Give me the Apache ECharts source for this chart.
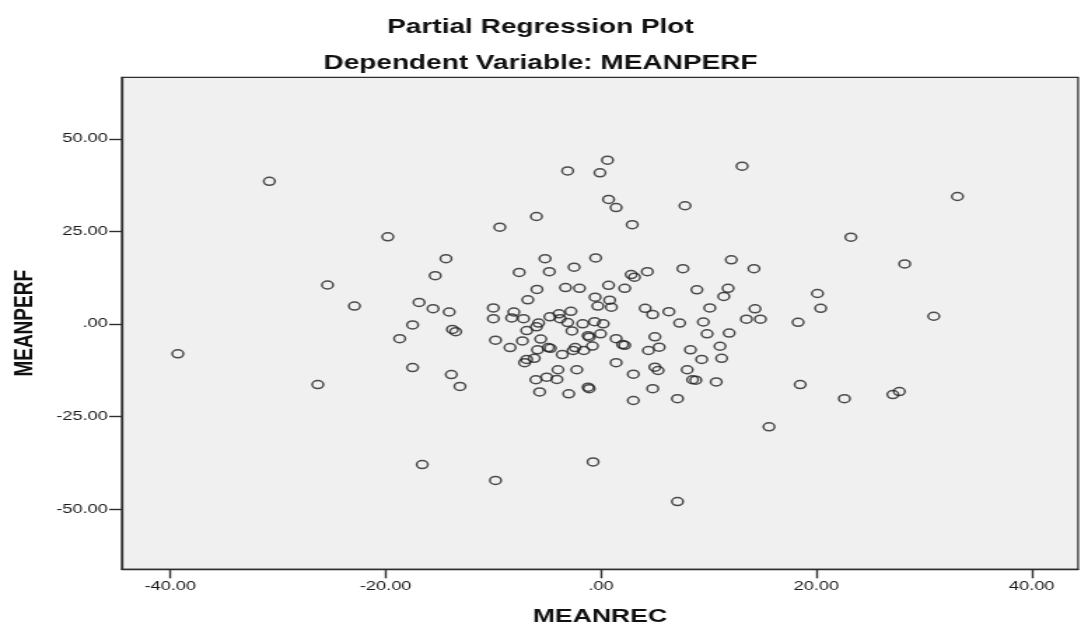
<!DOCTYPE html>
<html>
<head>
<meta charset="utf-8">
<script src="https://cdn.jsdelivr.net/npm/echarts@6/dist/echarts.min.js"></script>
<style>
  html, body { margin: 0; padding: 0; background: #fff; overflow: hidden; }
  /* the source picture is stretched sideways (~1.4x), so draw narrow and stretch */
  #main { position: absolute; left: 0; top: 0; width: 772px; height: 633px;
          transform: scaleX(1.40026); transform-origin: 0 0; }
</style>
</head>
<body>
<div id="main"></div>
<script>
// MEANREC (x) and MEANPERF (y) residuals
var meanRec = [
  -30.8, -19.8, -14.4, -15.4, -25.4, -22.9, -16.9, -15.6, -14.1, -17.5,
  -13.8, -13.5, -18.7, -39.3, -17.5, -13.9, -13.1, -26.3, -16.6,
  0.6, -3.1, -0.1, 0.7, 1.4, 2.9, -6.0, -9.4, -5.2, -0.5, -7.6, -4.8, -2.5, 2.8, 3.1,
  -5.95, -3.3, -2.0, 0.7, 2.2, -6.8, -0.55, 0.8, -0.3, 0.96, -10.0, -10.0, -8.1, -8.3, -7.2,
  -2.8, -4.75, -3.9, -3.8, -3.1, -2.7, -1.7, -0.6, 0.2, -5.8, -6.0, -6.9, -9.8, -7.3, -5.6,
  -8.45, -5.9, -4.9, -4.7, -1.2, -1.1, -0.05, -0.8, -2.4, -2.6, -1.6, -3.6, -6.2, -6.9, -7.1,
  1.4, 2.0, 2.2, 1.4, 3.0, -4.0, -2.25, -6.05, -5.05, -4.1, -1.2, -1.1, -5.7, -3.0,
  3.0, -0.74, -9.8,
  13.1, 7.8, 12.1, 14.2, 7.6, 4.3, 8.9, 11.8, 11.4,
  4.1, 4.8, 6.3, 7.3, 10.1, 9.5, 9.85, 11.9, 14.3, 13.5, 14.8, 18.3, 5.0, 4.4, 5.4, 8.3,
  9.35, 11.05, 11.2, 5.0, 5.3, 8.0, 8.5, 8.8, 10.7, 4.8, 7.1, 18.5,
  33.1, 23.2, 28.2, 20.1, 20.4, 30.9, 22.6, 27.1, 27.7,
  15.6, 7.1
];
var meanPerf = [
  38.5, 23.5, 17.6, 13.0, 10.5, 4.8, 5.8, 4.1, 3.2, -0.3,
  -1.5, -2.1, -4.0, -8.1, -11.8, -13.7, -16.9, -16.4, -38.0,
  44.2, 41.3, 40.8, 33.6, 31.4, 26.8, 29.0, 26.1, 17.6, 17.8, 13.9, 14.1, 15.3, 13.3, 12.6,
  9.3, 9.8, 9.6, 10.4, 9.6, 6.5, 7.2, 6.4, 4.8, 4.5, 4.3, 1.4, 3.2, 1.6, 1.4,
  3.4, 1.9, 2.7, 1.4, 0.35, -1.9, 0.0, 0.6, 0.0, 0.2, -0.8, -1.8, -4.4, -4.6, -4.1,
  -6.4, -7.0, -6.4, -6.6, -3.2, -3.6, -2.7, -6.0, -6.4, -7.2, -7.2, -8.3, -9.3, -9.6, -10.5,
  -4.0, -5.6, -5.8, -10.5, -13.6, -12.4, -12.4, -15.1, -14.4, -15.0, -17.1, -17.5, -18.4, -18.9,
  -20.7, -37.3, -42.3,
  42.6, 31.9, 17.3, 14.9, 14.9, 14.1, 9.2, 9.6, 7.4,
  4.2, 2.5, 3.3, 0.2, 4.3, 0.5, -2.7, -2.5, 4.05, 1.25, 1.25, 0.4, -3.5, -7.2, -6.3, -7.0,
  -9.6, -6.05, -9.3, -11.7, -12.6, -12.4, -15.1, -15.2, -15.7, -17.5, -20.2, -16.4,
  34.4, 23.4, 16.2, 8.2, 4.2, 2.05, -20.2, -19.1, -18.3,
  -27.8, -48.0
];

var xTicks = [-40, -20, 0, 20, 40];
var yTicks = [-50, -25, 0, 25, 50];

var chart = echarts.init(document.getElementById('main'));

var fontFam = 'Arial, "Liberation Sans", sans-serif';
var fmt = function (v) { return v === 0 ? '.00' : Number(v).toFixed(2); };

var points = meanRec.map(function (x, i) { return [x, meanPerf[i]]; });

var option = {
  animation: false,
  backgroundColor: '#fff',
  title: [
    {
      text: 'Partial Regression Plot',
      left: 'center', top: 12,
      textStyle: { fontFamily: fontFam, fontSize: 20, fontWeight: 'bold', color: '#111' }
    },
    {
      text: 'Dependent Variable: MEANPERF',
      left: 'center', top: 48,
      textStyle: { fontFamily: fontFam, fontSize: 20, fontWeight: 'bold', color: '#111' }
    }
  ],
  grid: {
    left: 86.4, right: 2.1, top: 77.3, bottom: 63.7,
    show: true,
    backgroundColor: '#f0f0f0',
    borderColor: '#2e2e2e',
    borderWidth: 1.3
  },
  xAxis: {
    type: 'value',
    min: -44.5, max: 44.3,
    name: 'MEANREC',
    nameLocation: 'middle',
    nameGap: 38,
    nameTextStyle: { fontFamily: fontFam, fontSize: 19, fontWeight: 'bold', color: '#111' },
    axisLine: { show: true, onZero: false, lineStyle: { color: '#2e2e2e', width: 1.3 } },
    axisTick: { show: true, length: 9, customValues: xTicks, lineStyle: { color: '#2e2e2e', width: 1.4 } },
    axisLabel: { customValues: xTicks, margin: 11, formatter: fmt,
                 fontFamily: fontFam, fontSize: 13, color: '#1a1a1a' },
    splitLine: { show: false }
  },
  yAxis: {
    type: 'value',
    min: -66.3, max: 66.6,
    name: 'MEANPERF',
    nameLocation: 'middle',
    nameGap: 60,
    nameTextStyle: { fontFamily: fontFam, fontSize: 19, fontWeight: 'bold', color: '#111' },
    axisLine: { show: true, onZero: false, lineStyle: { color: '#2e2e2e', width: 1.3 } },
    axisTick: { show: true, length: 9, customValues: yTicks, lineStyle: { color: '#2e2e2e', width: 1.4 } },
    axisLabel: { customValues: yTicks, margin: 10, formatter: fmt,
                 fontFamily: fontFam, fontSize: 13, color: '#1a1a1a' },
    splitLine: { show: false }
  },
  series: [
    {
      type: 'scatter',
      data: points,
      symbol: 'circle',
      symbolSize: 8,
      itemStyle: { color: 'rgba(0,0,0,0)', borderColor: '#222', borderWidth: 1.5 }
    }
  ]
};

chart.setOption(option);
</script>
</body>
</html>
